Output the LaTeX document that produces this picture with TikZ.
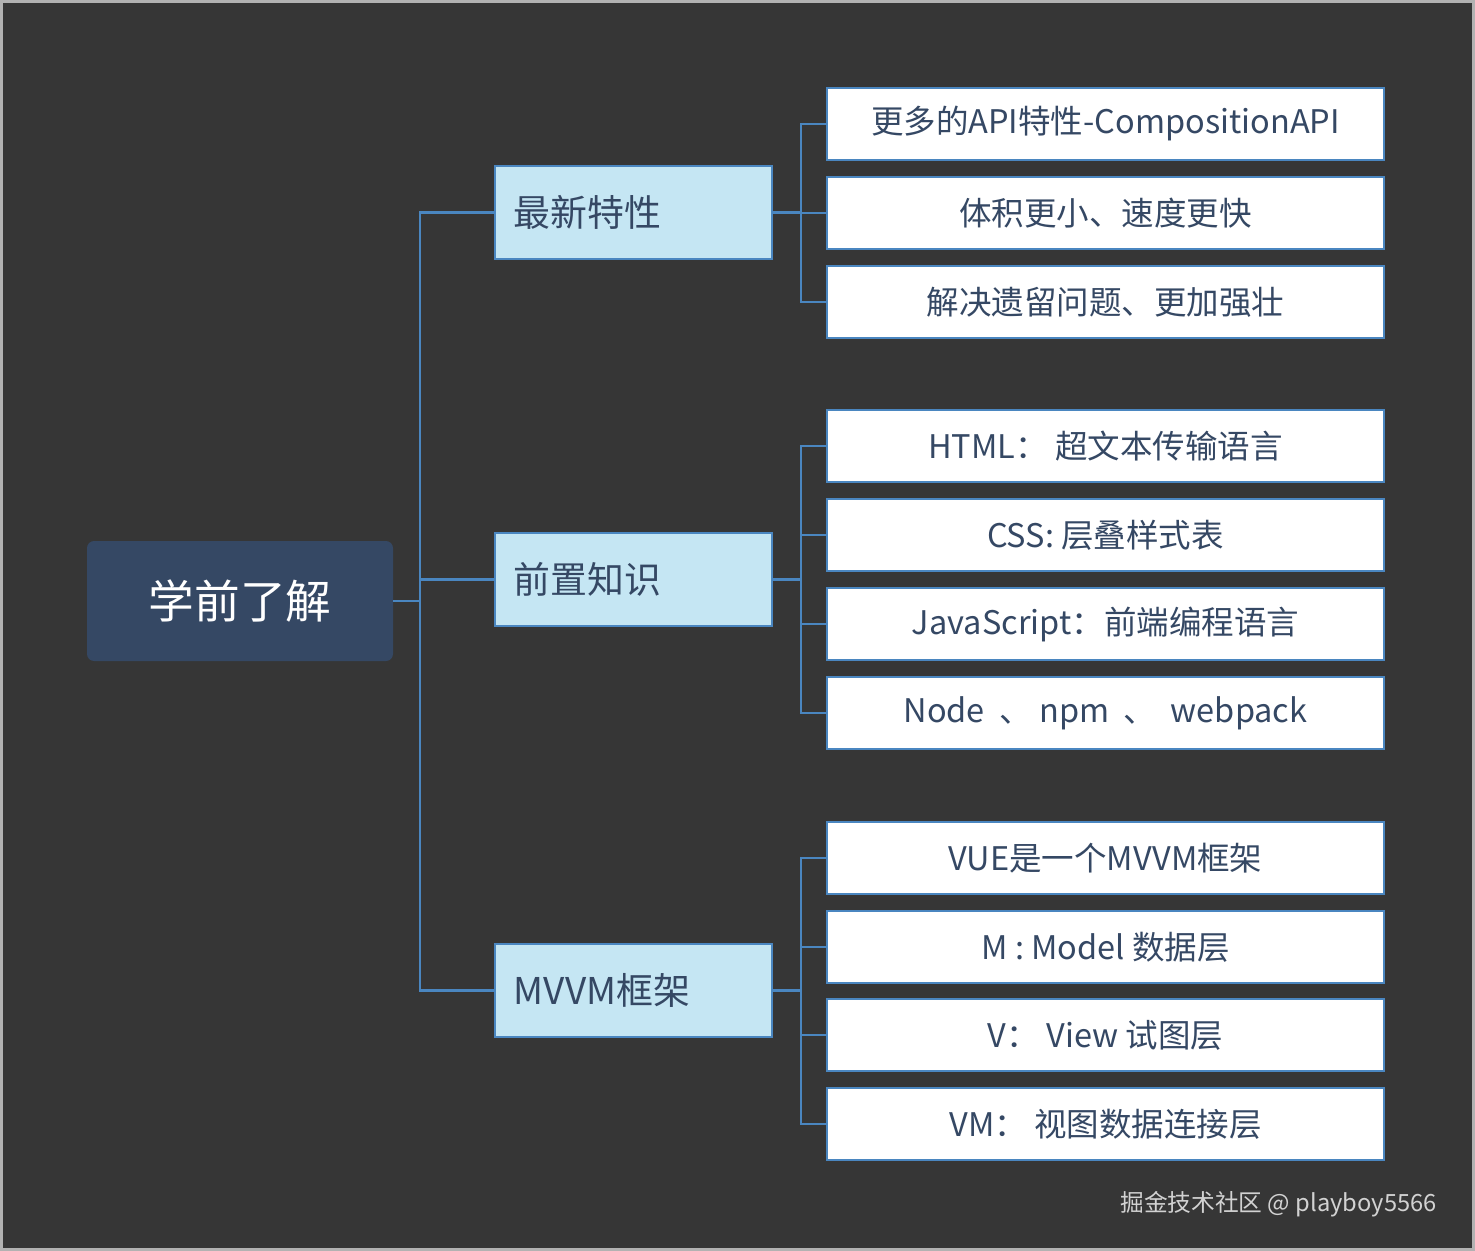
\documentclass[tikz,border=0pt]{standalone}
\usepackage{fontspec}
\setmainfont{Noto Sans CJK SC}
\definecolor{bg}{HTML}{363636}
\definecolor{rootc}{HTML}{354864}
\definecolor{midc}{HTML}{C5E6F3}
\definecolor{linec}{HTML}{4A86C0}
\definecolor{txt}{HTML}{354864}
\tikzset{
 px/.style={x=0.02cm,y=-0.02cm},
 rootbox/.style={fill=rootc,rounded corners=4pt,text=white,font=\fontsize{26}{30}\selectfont,minimum width=306*0.02cm,minimum height=120*0.02cm,inner sep=0pt},
 midbox/.style={fill=midc,draw=linec,line width=1.2pt,text=txt,font=\fontsize{21}{25}\selectfont,minimum width=277*0.02cm,minimum height=93*0.02cm,inner sep=0pt,text width=277*0.02cm-37*0.02cm,align=left},
 leafbox/.style={fill=white,draw=linec,line width=1.2pt,text=txt,font=\fontsize{18.5}{22}\selectfont,minimum width=557*0.02cm,minimum height=72*0.02cm,inner sep=0pt},
 conn/.style={draw=linec,line width=1.5pt},
}
\begin{document}
\begin{tikzpicture}[px]
\fill[gray!60] (0,0) rectangle (1475,1251);
\fill[bg] (3,3) rectangle (1472,1248);
\useasboundingbox (0,0) rectangle (1475,1251);
\node[rootbox] (root) at (240,601) {学前了解};
\node[midbox] (m1) at (633.5,212.5) {\hspace*{0pt}最新特性};
\node[midbox] (m2) at (633.5,579.5) {\hspace*{0pt}前置知识};
\node[midbox] (m3) at (633.5,990.5) {\hspace*{0pt}MVVM框架};
\node[leafbox] (l1) at (1105.5,124) {更多的API特性-CompositionAPI};
\node[leafbox] (l2) at (1105.5,213) {体积更小、速度更快};
\node[leafbox] (l3) at (1105.5,302) {解决遗留问题、更加强壮};
\node[leafbox] (l4) at (1105.5,446) {HTML： 超文本传输语言};
\node[leafbox] (l5) at (1105.5,535) {CSS:  层叠样式表};
\node[leafbox] (l6) at (1105.5,624) {JavaScript：前端编程语言};
\node[leafbox] (l7) at (1105.5,713) {Node \ 、 npm \ 、 \ webpack};
\node[leafbox] (l8) at (1105.5,858) {VUE是一个MVVM框架};
\node[leafbox] (l9) at (1105.5,947) {M : Model 数据层};
\node[leafbox] (l10) at (1105.5,1035) {V： View 试图层};
\node[leafbox] (l11) at (1105.5,1124) {VM： 视图数据连接层};
\coordinate (rj) at (420,601);
\draw[conn] (root.east) -- (rj);
\foreach \m in {m1,m2,m3}{\draw[conn] (rj) |- (\m.west);}
\foreach \m/\ls in {m1/{l1,l2,l3},m2/{l4,l5,l6,l7},m3/{l8,l9,l10,l11}}{
  \coordinate (j\m) at ([xshift=28*0.02cm]\m.east);
  \draw[conn] (\m.east) -- (j\m);
  \foreach \l in \ls {\draw[conn] (j\m) |- (\l.west);}
}
\node[text=gray!35,font=\fontsize{13.5}{16}\selectfont,anchor=east] (wm) at (1443,1204) {掘金技术社区 @ playboy5566};
\end{tikzpicture}
\end{document}
